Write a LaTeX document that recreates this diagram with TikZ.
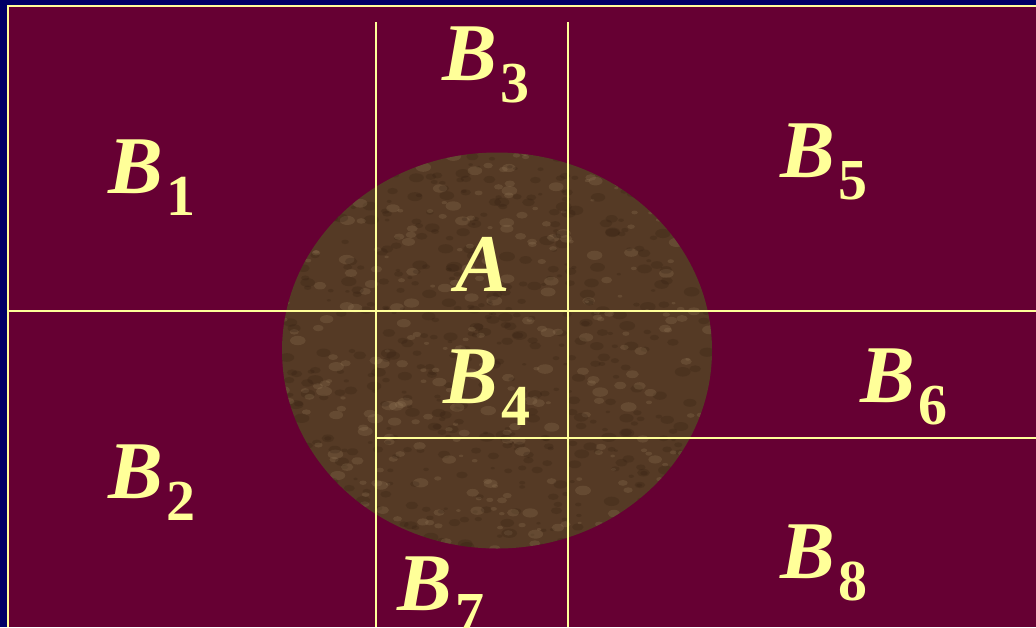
\documentclass[tikz,border=0pt]{standalone}
\usepackage{fontspec}
\setmainfont{Liberation Serif}
\definecolor{navy}{HTML}{000066}
\definecolor{wine}{HTML}{660033}
\definecolor{pale}{HTML}{FFFF99}
\definecolor{stone}{HTML}{553A25}
\definecolor{stonedark}{HTML}{2E1C0E}
\definecolor{stonelight}{HTML}{A08563}
\newcommand{\setlbl}[2]{{\bfseries\itshape #1}\kern1.5pt\raisebox{-11pt}{\fontsize{29}{29}\selectfont\bfseries #2}}
\tikzset{
  region/.style={anchor=base west, inner sep=0pt, text=pale, font=\fontsize{41}{41}\selectfont},
  cut/.style={draw=pale, line width=1pt}
}
\begin{document}
\begin{tikzpicture}[x=0.5pt, y=-0.5pt]
\useasboundingbox (0,0) rectangle (1036,627);
\fill[navy] (0,0) rectangle (1036,627);
\fill[wine] (7.5,6) rectangle (1036,627);
\draw[pale, line width=1pt] (7.5,627) -- (7.5,6) -- (1036,6);
% the set A
\fill[stone] (497,350.5) ellipse [x radius=215, y radius=198];
\begin{scope}
  \clip (497,350.5) ellipse [x radius=215, y radius=198];
  \pgfmathsetseed{7}
  \foreach \i in {1,...,900} {
    \pgfmathsetmacro{\px}{282+430*rnd}
    \pgfmathsetmacro{\py}{152+397*rnd}
    \pgfmathsetmacro{\pr}{2+6*rnd}
    \pgfmathsetmacro{\pc}{rnd<0.6 ? "stonedark" : "stonelight"}
    \fill[\pc, opacity=0.22] (\px,\py) ellipse [x radius=\pr, y radius=0.6*\pr];
  }
\end{scope}
% partition
\draw[cut] (376,22) -- (376,627);
\draw[cut] (568,22) -- (568,627);
\draw[cut] (8,311) -- (1036,311);
\draw[cut] (376,438) -- (1036,438);
\node[region] (b1) at (108,193) {\setlbl{B}{1}};
\node[region] (b2) at (108,498) {\setlbl{B}{2}};
\node[region] (b3) at (442,80) {\setlbl{B}{3}};
\node[region] (b4) at (443,403) {\setlbl{B}{4}};
\node[region] (b5) at (780,177) {\setlbl{B}{5}};
\node[region] (b6) at (860,402) {\setlbl{B}{6}};
\node[region] (b7) at (397,610) {\setlbl{B}{7}};
\node[region] (b8) at (780,578) {\setlbl{B}{8}};
\node[region] (a) at (455,291) {\bfseries\itshape A};
\end{tikzpicture}
\end{document}
